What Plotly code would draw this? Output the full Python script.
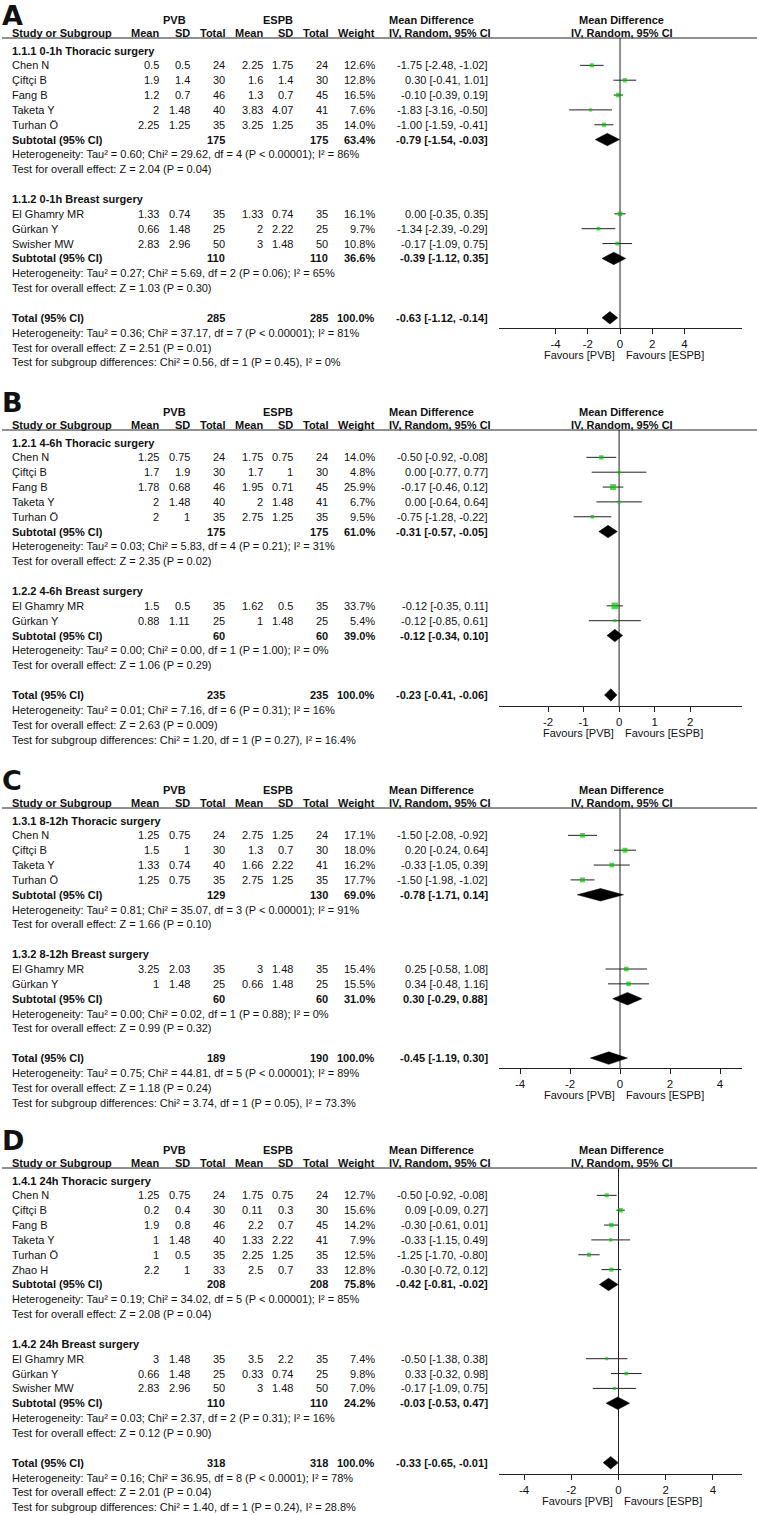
import plotly.graph_objects as go

W, H = 757, 1515
FONT = "Liberation Sans, Arial, sans-serif"
LETTER_FONT = "DejaVu Sans, Liberation Sans, Arial, sans-serif"
TXT = "#111111"
LINE = "#222222"
GREEN = "#00c800"
ROW = 14.85

# ---------------- data ----------------
# (study, PVB mean, PVB SD, PVB n, ESPB mean, ESPB SD, ESPB n, weight %, MD, lower, upper)
A1_title = "1.1.1 0-1h Thoracic surgery"
A1_rows = [
    ("Chen N", 0.5, 0.5, 24, 2.25, 1.75, 24, 12.6, -1.75, -2.48, -1.02),
    ("Çiftçi B", 1.9, 1.4, 30, 1.6, 1.4, 30, 12.8, 0.30, -0.41, 1.01),
    ("Fang B", 1.2, 0.7, 46, 1.3, 0.7, 45, 16.5, -0.10, -0.39, 0.19),
    ("Taketa Y", 2, 1.48, 40, 3.83, 4.07, 41, 7.6, -1.83, -3.16, -0.50),
    ("Turhan Ö", 2.25, 1.25, 35, 3.25, 1.25, 35, 14.0, -1.00, -1.59, -0.41),
]
A1_sub = (175, 175, 63.4, -0.79, -1.54, -0.03)
A1_het = "Heterogeneity: Tau² = 0.60; Chi² = 29.62, df = 4 (P < 0.00001); I² = 86%"
A1_z = "Test for overall effect: Z = 2.04 (P = 0.04)"

A2_title = "1.1.2 0-1h Breast surgery"
A2_rows = [
    ("El Ghamry MR", 1.33, 0.74, 35, 1.33, 0.74, 35, 16.1, 0.00, -0.35, 0.35),
    ("Gürkan Y", 0.66, 1.48, 25, 2, 2.22, 25, 9.7, -1.34, -2.39, -0.29),
    ("Swisher MW", 2.83, 2.96, 50, 3, 1.48, 50, 10.8, -0.17, -1.09, 0.75),
]
A2_sub = (110, 110, 36.6, -0.39, -1.12, 0.35)
A2_het = "Heterogeneity: Tau² = 0.27; Chi² = 5.69, df = 2 (P = 0.06); I² = 65%"
A2_z = "Test for overall effect: Z = 1.03 (P = 0.30)"

A_total = (285, 285, 100.0, -0.63, -1.12, -0.14)
A_het = "Heterogeneity: Tau² = 0.36; Chi² = 37.17, df = 7 (P < 0.00001); I² = 81%"
A_z = "Test for overall effect: Z = 2.51 (P = 0.01)"
A_sg = "Test for subgroup differences: Chi² = 0.56, df = 1 (P = 0.45), I² = 0%"

B1_title = "1.2.1 4-6h Thoracic surgery"
B1_rows = [
    ("Chen N", 1.25, 0.75, 24, 1.75, 0.75, 24, 14.0, -0.50, -0.92, -0.08),
    ("Çiftçi B", 1.7, 1.9, 30, 1.7, 1, 30, 4.8, 0.00, -0.77, 0.77),
    ("Fang B", 1.78, 0.68, 46, 1.95, 0.71, 45, 25.9, -0.17, -0.46, 0.12),
    ("Taketa Y", 2, 1.48, 40, 2, 1.48, 41, 6.7, 0.00, -0.64, 0.64),
    ("Turhan Ö", 2, 1, 35, 2.75, 1.25, 35, 9.5, -0.75, -1.28, -0.22),
]
B1_sub = (175, 175, 61.0, -0.31, -0.57, -0.05)
B1_het = "Heterogeneity: Tau² = 0.03; Chi² = 5.83, df = 4 (P = 0.21); I² = 31%"
B1_z = "Test for overall effect: Z = 2.35 (P = 0.02)"

B2_title = "1.2.2 4-6h Breast surgery"
B2_rows = [
    ("El Ghamry MR", 1.5, 0.5, 35, 1.62, 0.5, 35, 33.7, -0.12, -0.35, 0.11),
    ("Gürkan Y", 0.88, 1.11, 25, 1, 1.48, 25, 5.4, -0.12, -0.85, 0.61),
]
B2_sub = (60, 60, 39.0, -0.12, -0.34, 0.10)
B2_het = "Heterogeneity: Tau² = 0.00; Chi² = 0.00, df = 1 (P = 1.00); I² = 0%"
B2_z = "Test for overall effect: Z = 1.06 (P = 0.29)"

B_total = (235, 235, 100.0, -0.23, -0.41, -0.06)
B_het = "Heterogeneity: Tau² = 0.01; Chi² = 7.16, df = 6 (P = 0.31); I² = 16%"
B_z = "Test for overall effect: Z = 2.63 (P = 0.009)"
B_sg = "Test for subgroup differences: Chi² = 1.20, df = 1 (P = 0.27), I² = 16.4%"

C1_title = "1.3.1 8-12h Thoracic surgery"
C1_rows = [
    ("Chen N", 1.25, 0.75, 24, 2.75, 1.25, 24, 17.1, -1.50, -2.08, -0.92),
    ("Çiftçi B", 1.5, 1, 30, 1.3, 0.7, 30, 18.0, 0.20, -0.24, 0.64),
    ("Taketa Y", 1.33, 0.74, 40, 1.66, 2.22, 41, 16.2, -0.33, -1.05, 0.39),
    ("Turhan Ö", 1.25, 0.75, 35, 2.75, 1.25, 35, 17.7, -1.50, -1.98, -1.02),
]
C1_sub = (129, 130, 69.0, -0.78, -1.71, 0.14)
C1_het = "Heterogeneity: Tau² = 0.81; Chi² = 35.07, df = 3 (P < 0.00001); I² = 91%"
C1_z = "Test for overall effect: Z = 1.66 (P = 0.10)"

C2_title = "1.3.2 8-12h Breast surgery"
C2_rows = [
    ("El Ghamry MR", 3.25, 2.03, 35, 3, 1.48, 35, 15.4, 0.25, -0.58, 1.08),
    ("Gürkan Y", 1, 1.48, 25, 0.66, 1.48, 25, 15.5, 0.34, -0.48, 1.16),
]
C2_sub = (60, 60, 31.0, 0.30, -0.29, 0.88)
C2_het = "Heterogeneity: Tau² = 0.00; Chi² = 0.02, df = 1 (P = 0.88); I² = 0%"
C2_z = "Test for overall effect: Z = 0.99 (P = 0.32)"

C_total = (189, 190, 100.0, -0.45, -1.19, 0.30)
C_het = "Heterogeneity: Tau² = 0.75; Chi² = 44.81, df = 5 (P < 0.00001); I² = 89%"
C_z = "Test for overall effect: Z = 1.18 (P = 0.24)"
C_sg = "Test for subgroup differences: Chi² = 3.74, df = 1 (P = 0.05), I² = 73.3%"

D1_title = "1.4.1 24h Thoracic surgery"
D1_rows = [
    ("Chen N", 1.25, 0.75, 24, 1.75, 0.75, 24, 12.7, -0.50, -0.92, -0.08),
    ("Çiftçi B", 0.2, 0.4, 30, 0.11, 0.3, 30, 15.6, 0.09, -0.09, 0.27),
    ("Fang B", 1.9, 0.8, 46, 2.2, 0.7, 45, 14.2, -0.30, -0.61, 0.01),
    ("Taketa Y", 1, 1.48, 40, 1.33, 2.22, 41, 7.9, -0.33, -1.15, 0.49),
    ("Turhan Ö", 1, 0.5, 35, 2.25, 1.25, 35, 12.5, -1.25, -1.70, -0.80),
    ("Zhao H", 2.2, 1, 33, 2.5, 0.7, 33, 12.8, -0.30, -0.72, 0.12),
]
D1_sub = (208, 208, 75.8, -0.42, -0.81, -0.02)
D1_het = "Heterogeneity: Tau² = 0.19; Chi² = 34.02, df = 5 (P < 0.00001); I² = 85%"
D1_z = "Test for overall effect: Z = 2.08 (P = 0.04)"

D2_title = "1.4.2 24h Breast surgery"
D2_rows = [
    ("El Ghamry MR", 3, 1.48, 35, 3.5, 2.2, 35, 7.4, -0.50, -1.38, 0.38),
    ("Gürkan Y", 0.66, 1.48, 25, 0.33, 0.74, 25, 9.8, 0.33, -0.32, 0.98),
    ("Swisher MW", 2.83, 2.96, 50, 3, 1.48, 50, 7.0, -0.17, -1.09, 0.75),
]
D2_sub = (110, 110, 24.2, -0.03, -0.53, 0.47)
D2_het = "Heterogeneity: Tau² = 0.03; Chi² = 2.37, df = 2 (P = 0.31); I² = 16%"
D2_z = "Test for overall effect: Z = 0.12 (P = 0.90)"

D_total = (318, 318, 100.0, -0.33, -0.65, -0.01)
D_het = "Heterogeneity: Tau² = 0.16; Chi² = 36.95, df = 8 (P < 0.0001); I² = 78%"
D_z = "Test for overall effect: Z = 2.01 (P = 0.04)"
D_sg = "Test for subgroup differences: Chi² = 1.40, df = 1 (P = 0.24), I² = 28.8%"

PANEL_LETTERS = ["A", "B", "C", "D"]
X_TICKS = [[-4, -2, 0, 2, 4], [-2, -1, 0, 1, 2], [-4, -2, 0, 2, 4], [-4, -2, 0, 2, 4]]
X_RANGES = [(-7.52, 7.58), (-3.38, 3.46), (-4.84, 4.88), (-5.06, 5.23)]

# ---------------- layout (pixels) ----------------
HEADER_Y = [38, 430, 808, 1168]
AXIS_Y = [328, 706, 1068, 1474]
PLOT_X0, PLOT_X1 = 499, 742
COL_NAME = 12
COLS_RIGHT = [159, 190, 225, 263, 293, 328, 375, 488]

panels = [
    dict(groups=[(A1_title, A1_rows, A1_sub, A1_het, A1_z), (A2_title, A2_rows, A2_sub, A2_het, A2_z)],
         total=A_total, het=A_het, z=A_z, sg=A_sg),
    dict(groups=[(B1_title, B1_rows, B1_sub, B1_het, B1_z), (B2_title, B2_rows, B2_sub, B2_het, B2_z)],
         total=B_total, het=B_het, z=B_z, sg=B_sg),
    dict(groups=[(C1_title, C1_rows, C1_sub, C1_het, C1_z), (C2_title, C2_rows, C2_sub, C2_het, C2_z)],
         total=C_total, het=C_het, z=C_z, sg=C_sg),
    dict(groups=[(D1_title, D1_rows, D1_sub, D1_het, D1_z), (D2_title, D2_rows, D2_sub, D2_het, D2_z)],
         total=D_total, het=D_het, z=D_z, sg=D_sg),
]


def fmt(v):
    return f"{v:g}"


def ci_text(md, lo, hi):
    return f"{md:.2f} [{lo:.2f}, {hi:.2f}]"


fig = go.Figure()
annotations = []
shapes = []
layout_axes = {}

for i, panel in enumerate(panels):
    U = HEADER_Y[i]
    AX = AXIS_Y[i]
    xname = "x" if i == 0 else f"x{i + 1}"
    yname = "y" if i == 0 else f"y{i + 1}"

    def rp(p, U=U):
        return (p - U - 12.5) / ROW

    top_px = max(U - 46, 0)
    bot_px = min(AX + 40, H)

    def ann(xpx, y, text, xanchor="left", bold=False, size=11, yanchor="middle",
            family=FONT, yname=yname):
        annotations.append(dict(
            xref="paper", yref=yname, x=xpx / W, y=y,
            text=f"<b>{text}</b>" if bold else text,
            xanchor=xanchor, yanchor=yanchor, showarrow=False,
            borderpad=0, borderwidth=0,
            font=dict(family=family, size=size, color=TXT)))

    # headers
    ann(2, rp(max(U - 43, 0)), PANEL_LETTERS[i], bold=True, size=27, yanchor="top", family=LETTER_FONT)
    ann(174, rp(U - 18), "PVB", xanchor="center", bold=True)
    ann(278, rp(U - 18), "ESPB", xanchor="center", bold=True)
    ann(389, rp(U - 18), "Mean Difference", bold=True)
    ann(621, rp(U - 18), "Mean Difference", xanchor="center", bold=True)
    ann(COL_NAME, rp(U - 5), "Study or Subgroup", bold=True)
    for cx, lab in zip(COLS_RIGHT[:7], ["Mean", "SD", "Total", "Mean", "SD", "Total", "Weight"]):
        ann(cx, rp(U - 5), lab, xanchor="right", bold=True)
    ann(389, rp(U - 5), "IV, Random, 95% CI", bold=True)
    ann(622, rp(U - 5), "IV, Random, 95% CI", xanchor="center", bold=True)

    shapes.append(dict(type="line", xref="paper", yref=yname, x0=2 / W, x1=1,
                       y0=rp(U), y1=rp(U), line=dict(color=LINE, width=1)))

    sq_x, sq_y, sq_s = [], [], []
    ci_x, ci_y = [], []
    dm_x, dm_y = [], []

    def diamond(r, md, lo, hi):
        h = 0.42
        dm_x.extend([lo, md, hi, md, lo, None])
        dm_y.extend([r, r - h, r, r + h, r, None])

    r = 0
    for title, rows, sub, het, z in panel["groups"]:
        ann(COL_NAME, r, title, bold=True)
        r += 1
        for row in rows:
            name = row[0]
            ann(COL_NAME, r, name)
            vals = [fmt(row[1]), fmt(row[2]), str(row[3]), fmt(row[4]), fmt(row[5]), str(row[6]),
                    f"{row[7]:.1f}%", ci_text(row[8], row[9], row[10])]
            for cx, v in zip(COLS_RIGHT, vals):
                ann(cx, r, v, xanchor="right")
            sq_x.append(row[8]); sq_y.append(r); sq_s.append(max(3.0, 1.15 * row[7] ** 0.5))
            ci_x.extend([row[9], row[10], None]); ci_y.extend([r, r, None])
            r += 1
        ann(COL_NAME, r, "Subtotal (95% CI)", bold=True)
        svals = [str(sub[0]), str(sub[1]), f"{sub[2]:.1f}%", ci_text(sub[3], sub[4], sub[5])]
        for cx, v in zip([COLS_RIGHT[2], COLS_RIGHT[5], COLS_RIGHT[6], COLS_RIGHT[7]], svals):
            ann(cx, r, v, xanchor="right", bold=True)
        diamond(r, sub[3], sub[4], sub[5])
        r += 1
        ann(COL_NAME, r, het); r += 1
        ann(COL_NAME, r, z); r += 2

    tot = panel["total"]
    ann(COL_NAME, r, "Total (95% CI)", bold=True)
    tvals = [str(tot[0]), str(tot[1]), f"{tot[2]:.1f}%", ci_text(tot[3], tot[4], tot[5])]
    for cx, v in zip([COLS_RIGHT[2], COLS_RIGHT[5], COLS_RIGHT[6], COLS_RIGHT[7]], tvals):
        ann(cx, r, v, xanchor="right", bold=True)
    diamond(r, tot[3], tot[4], tot[5])
    ann(COL_NAME, r + 1, panel["het"])
    ann(COL_NAME, r + 2, panel["z"])
    ann(COL_NAME, r + 3, panel["sg"])

    # Favours labels
    annotations.append(dict(xref=xname, yref=yname, x=0, y=rp(AX + 27), text="Favours [PVB]",
                            xanchor="right", yanchor="middle", xshift=-3, showarrow=False,
                            font=dict(family=FONT, size=11, color=TXT)))
    annotations.append(dict(xref=xname, yref=yname, x=0, y=rp(AX + 27), text="Favours [ESPB]",
                            xanchor="left", yanchor="middle", xshift=4, showarrow=False,
                            font=dict(family=FONT, size=11, color=TXT)))

    # traces
    fig.add_trace(go.Scatter(x=[0, 0], y=[rp(U), rp(AX)], mode="lines",
                             line=dict(color=LINE, width=1), xaxis=xname, yaxis=yname,
                             hoverinfo="skip"))
    fig.add_trace(go.Scatter(x=ci_x, y=ci_y, mode="lines", line=dict(color=LINE, width=1),
                             xaxis=xname, yaxis=yname, hoverinfo="skip"))
    fig.add_trace(go.Scatter(x=sq_x, y=sq_y, mode="markers",
                             marker=dict(symbol="square", size=sq_s, color=GREEN, line=dict(width=0)),
                             xaxis=xname, yaxis=yname))
    fig.add_trace(go.Scatter(x=dm_x, y=dm_y, mode="lines", fill="toself", fillcolor="black",
                             line=dict(color="black", width=0.5), xaxis=xname, yaxis=yname,
                             hoverinfo="skip"))

    xa = "xaxis" if i == 0 else f"xaxis{i + 1}"
    ya = "yaxis" if i == 0 else f"yaxis{i + 1}"
    layout_axes[xa] = dict(
        domain=[PLOT_X0 / W, PLOT_X1 / W], anchor="free", position=1 - AX / H,
        range=list(X_RANGES[i]),
        tickmode="array", tickvals=X_TICKS[i], ticktext=[str(t) for t in X_TICKS[i]],
        ticks="outside", ticklen=5, tickwidth=1, tickcolor=LINE,
        showline=True, linecolor=LINE, linewidth=1, showgrid=False, zeroline=False,
        tickfont=dict(family=FONT, size=11.5, color=TXT), fixedrange=True)
    layout_axes[ya] = dict(
        domain=[1 - bot_px / H, 1 - top_px / H], range=[rp(bot_px), rp(top_px)],
        visible=False, showgrid=False, zeroline=False, fixedrange=True)

fig.update_layout(
    width=W, height=H, margin=dict(l=0, r=0, t=0, b=0),
    paper_bgcolor="white", plot_bgcolor="rgba(0,0,0,0)", showlegend=False,
    annotations=annotations, shapes=shapes, **layout_axes)

fig.write_html("out.html", config={"displayModeBar": False},
               post_script="document.body.style.margin='0';document.body.style.overflow='hidden';")
